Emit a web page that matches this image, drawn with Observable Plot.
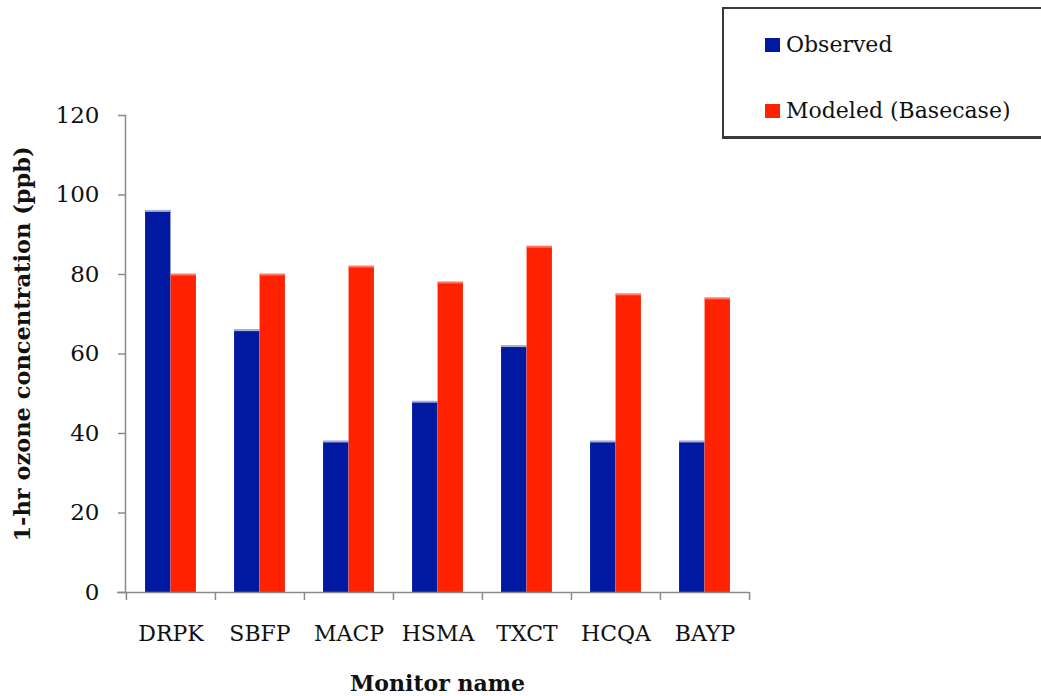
<!DOCTYPE html>
<html>
<head>
<meta charset="utf-8">
<script src="https://cdn.jsdelivr.net/npm/d3@7"></script>
<script src="https://cdn.jsdelivr.net/npm/@observablehq/plot@0.6"></script>
<style>
  html, body { margin: 0; padding: 0; background: #fff; overflow: hidden; }
  #wrap { position: relative; width: 1041px; height: 696px; font-family: "DejaVu Serif", serif; }
  #legend {
    position: absolute; left: 722px; top: 7px; width: 340px; height: 132px;
    border: 2px solid #3a3a3a; border-bottom-width: 3px; background: #fff; box-sizing: border-box;
  }
  .item { position: absolute; left: 41px; display: flex; align-items: center; font-size: 22px; color: #111; }
  .sw { width: 15px; height: 14px; margin-right: 6px; }
</style>
</head>
<body>
<div id="wrap">
  <div id="chart"></div>
  <div id="legend"></div>
</div>
<script>
// Peak 1-hr ozone per monitor: observed vs modeled base case (ppb)
const sites = ["DRPK", "SBFP", "MACP", "HSMA", "TXCT", "HCQA", "BAYP"];
const observed = [96, 66, 38, 48, 62, 38, 38];
const modeled = [80, 80, 82, 78, 87, 75, 74];
const seriesNames = ["Observed", "Modeled (Basecase)"];
const seriesColors = ["#0019a0", "#ff2200"];
const seriesTops = ["#a9aedb", "#ff7a66"];
const yTicks = [0, 20, 40, 60, 80, 100, 120];
const xTitle = "Monitor name";
const yTitle = "1-hr ozone concentration (ppb)";

const W = 1041, H = 696;
const mL = 125, mR = 292, mT = 115, mB = 104;
const bw = (W - mL - mR) / sites.length;
const barW = 25.5;

const obsRows = sites.map((s, i) => ({site: s, value: observed[i]}));
const modRows = sites.map((s, i) => ({site: s, value: modeled[i]}));

// left / right insets place the two series side by side inside each site band
const insets = [
  {insetLeft: bw / 2 - barW, insetRight: bw / 2},
  {insetLeft: bw / 2, insetRight: bw / 2 - barW}
];

const font = "DejaVu Serif";
const axisGray = "#8a8a8a";

const chart = Plot.plot({
  width: W,
  height: H,
  marginLeft: mL,
  marginRight: mR,
  marginTop: mT,
  marginBottom: mB,
  style: {fontFamily: font, background: "#fff", color: "#111"},
  x: {domain: sites, padding: 0, label: null},
  y: {domain: [0, 120], label: null},
  marks: [
    Plot.frame({anchor: "left", stroke: axisGray, strokeWidth: 1.5}),
    Plot.barY(obsRows, {x: "site", y: "value", fill: seriesColors[0], ...insets[0]}),
    Plot.barY(modRows, {x: "site", y: "value", fill: seriesColors[1], ...insets[1]}),
    Plot.tickY(obsRows, {x: "site", y: "value", stroke: seriesTops[0], strokeWidth: 2, ...insets[0]}),
    Plot.tickY(modRows, {x: "site", y: "value", stroke: seriesTops[1], strokeWidth: 2, ...insets[1]}),
    Plot.ruleY([0], {stroke: axisGray, strokeWidth: 1.5, insetLeft: -8}),
    Plot.ruleX(sites, {x: d => d, y1: 0, y2: 0, insetBottom: -8, dx: -bw / 2, stroke: axisGray, strokeWidth: 1.5}),
    Plot.ruleX(sites.slice(-1), {x: d => d, y1: 0, y2: 0, insetBottom: -8, dx: bw / 2, stroke: axisGray, strokeWidth: 1.5}),
    Plot.axisY({ticks: yTicks, tickSize: 7, tickPadding: 19, stroke: axisGray, strokeWidth: 1.5, fontSize: 23, label: null}),
    Plot.axisX({tickSize: 0, tickPadding: 33, fontSize: 22, label: null}),
    Plot.text([xTitle], {frameAnchor: "bottom", lineAnchor: "middle", dy: 91, fontSize: 22, fontWeight: "bold", fill: "#111"}),
    Plot.text([yTitle], {frameAnchor: "left", textAnchor: "middle", lineAnchor: "middle", dx: -103, dy: -10, rotate: -90, fontSize: 22.5, fontWeight: "bold", fill: "#111"})
  ]
});
document.getElementById("chart").appendChild(chart);

// legend box
const legend = document.getElementById("legend");
seriesNames.forEach((name, i) => {
  const item = document.createElement("div");
  item.className = "item";
  item.style.top = (i === 0 ? 23 : 89) + "px";
  const sw = document.createElement("span");
  sw.className = "sw";
  sw.style.background = seriesColors[i];
  const label = document.createElement("span");
  label.textContent = name;
  item.appendChild(sw);
  item.appendChild(label);
  legend.appendChild(item);
});
</script>
</body>
</html>
